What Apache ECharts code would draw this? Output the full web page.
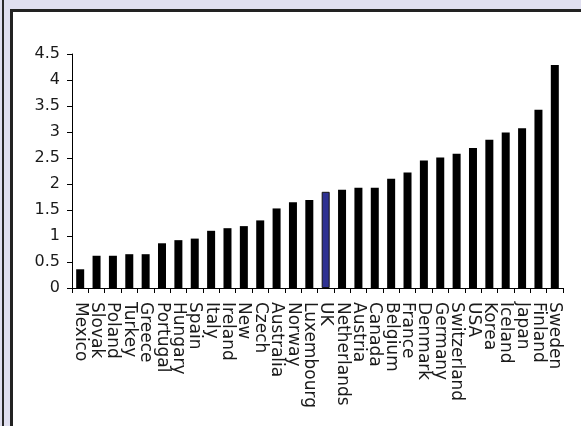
<!DOCTYPE html>
<html>
<head>
<meta charset="utf-8">
<script src="https://cdn.jsdelivr.net/npm/echarts@6/dist/echarts.min.js"></script>
<style>
html,body{margin:0;padding:0;background:#fff;}
#c{width:581px;height:426px;}
</style>
</head>
<body>
<div id="c"></div>
<script>
const countries = ['Mexico','Slovak','Poland','Turkey','Greece','Portugal','Hungary','Spain','Italy','Ireland','New','Czech','Australia','Norway','Luxembourg','UK','Netherlands','Austria','Canada','Belgium','France','Denmark','Germany','Switzerland','USA','Korea','Iceland','Japan','Finland','Sweden'];
const values = [0.36,0.62,0.62,0.65,0.65,0.86,0.92,0.95,1.10,1.15,1.19,1.30,1.53,1.65,1.69,1.85,1.89,1.93,1.93,2.10,2.22,2.45,2.51,2.58,2.69,2.85,2.99,3.07,3.43,4.29];
const highlight = 'UK';
const yTicks = {min:0, max:4.5, interval:0.5};

const chart = echarts.init(document.getElementById('c'));
const font = '"DejaVu Sans", Arial, sans-serif';
chart.setOption({
  animation:false,
  backgroundColor:'#fff',
  graphic:[
    {type:'rect', shape:{x:0,y:0,width:581,height:10}, style:{fill:'#e0dff0'}, z:-10},
    {type:'rect', shape:{x:0,y:0,width:10,height:426}, style:{fill:'#e0dff0'}, z:-10},
    {type:'rect', shape:{x:2,y:0,width:2,height:426}, style:{fill:'#2a2a2a'}, z:-9},
    {type:'rect', shape:{x:10,y:9,width:571,height:3}, style:{fill:'#222'}, z:-9},
    {type:'rect', shape:{x:10,y:9,width:3,height:417}, style:{fill:'#222'}, z:-9}
  ],
  grid:{left:72, right:18, top:54, bottom:138, containLabel:false},
  xAxis:{
    type:'category',
    data:countries,
    boundaryGap:true,
    axisLine:{lineStyle:{color:'#000',width:1}},
    axisTick:{show:true,length:5,lineStyle:{color:'#000'}},
    axisLabel:{rotate:-90, interval:0, margin:14, color:'#1a1a1a', fontSize:17, fontFamily:font}
  },
  yAxis:{
    type:'value',
    min:yTicks.min, max:yTicks.max, interval:yTicks.interval,
    splitLine:{show:false},
    axisLine:{show:true, lineStyle:{color:'#000',width:1}},
    axisTick:{show:true, length:5, lineStyle:{color:'#000'}},
    axisLabel:{color:'#1a1a1a', fontSize:16, fontFamily:font, margin:12}
  },
  series:[{
    type:'bar',
    barWidth:8,
    data:values.map((v,i)=>countries[i]===highlight
      ? {value:v, itemStyle:{color:'#2e3192', borderColor:'#111', borderWidth:1}}
      : {value:v, itemStyle:{color:'#000'}})
  }]
});
</script>
</body>
</html>
